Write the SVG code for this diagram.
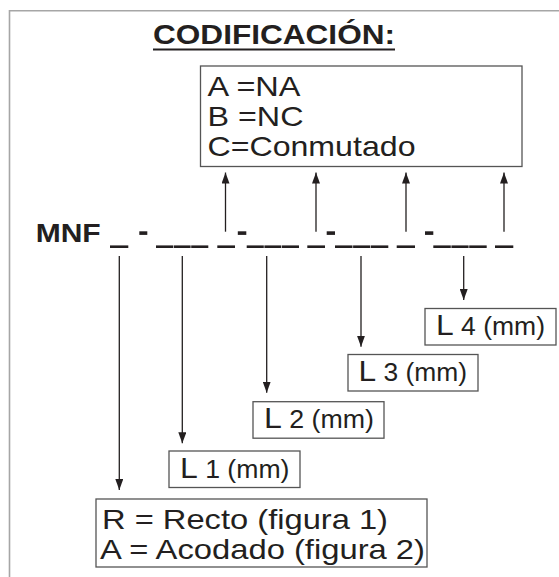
<svg xmlns="http://www.w3.org/2000/svg" width="559" height="577" viewBox="0 0 559 577">
<defs>
<style>
.t{font-family:"Liberation Sans",Arial,sans-serif;fill:#231f20}
.b{font-weight:bold}
.box{fill:#fff;stroke:#555;stroke-width:1.3}
.ln{stroke:#231f20;stroke-width:1.3;fill:none}
.us{stroke:#231f20;stroke-width:2.6}
.frame{stroke:#a6a6a6;stroke-width:1.6;fill:none}
</style>
<marker id="ah" markerWidth="11" markerHeight="8" refX="11" refY="4" orient="auto" markerUnits="userSpaceOnUse" viewBox="0 0 11 8">
<path d="M0,0 L11,4 L0,8 Z" fill="#231f20"/>
</marker>
</defs>
<rect width="559" height="577" fill="#fff"/>
<path class="frame" d="M9.5,577 V10.8 H559"/>

<g id="title">
<text class="t b" x="153" y="44" font-size="27" textLength="242" lengthAdjust="spacingAndGlyphs">CODIFICACIÓN:</text>
<line x1="153" y1="49.5" x2="395" y2="49.5" stroke="#231f20" stroke-width="2"/>
</g>

<g id="contacto">
<rect class="box" x="200.5" y="66" width="321.5" height="100.5"/>
<text class="t" font-size="28.5" x="207.5" y="95.7" textLength="93" lengthAdjust="spacingAndGlyphs">A =NA</text>
<text class="t" font-size="28.5" x="207.5" y="125.8" textLength="96" lengthAdjust="spacingAndGlyphs">B =NC</text>
<text class="t" font-size="28.5" x="207.5" y="156" textLength="208" lengthAdjust="spacingAndGlyphs">C=Conmutado</text>
</g>

<g id="codigo">
<text class="t b" x="35.7" y="241.7" font-size="26" textLength="65" lengthAdjust="spacingAndGlyphs">MNF</text>
<g class="us">
<line x1="110" y1="246.7" x2="128.3" y2="246.7"/>
<line x1="156" y1="246.7" x2="173.2" y2="246.7"/>
<line x1="173.8" y1="246.7" x2="190.6" y2="246.7"/>
<line x1="191.2" y1="246.7" x2="208.3" y2="246.7"/>
<line x1="217.3" y1="246.7" x2="235" y2="246.7"/>
<line x1="246.7" y1="246.7" x2="263.8" y2="246.7"/>
<line x1="264.4" y1="246.7" x2="281.2" y2="246.7"/>
<line x1="281.8" y1="246.7" x2="299" y2="246.7"/>
<line x1="307.3" y1="246.7" x2="325" y2="246.7"/>
<line x1="335" y1="246.7" x2="352.5" y2="246.7"/>
<line x1="353.1" y1="246.7" x2="370.2" y2="246.7"/>
<line x1="370.8" y1="246.7" x2="388.3" y2="246.7"/>
<line x1="396.7" y1="246.7" x2="415" y2="246.7"/>
<line x1="433.3" y1="246.7" x2="450.8" y2="246.7"/>
<line x1="451.4" y1="246.7" x2="468.6" y2="246.7"/>
<line x1="469.2" y1="246.7" x2="486.7" y2="246.7"/>
<line x1="495" y1="246.7" x2="513.3" y2="246.7"/>
</g>
<g fill="#231f20">
<rect x="139.3" y="231.3" width="8" height="3.6"/>
<rect x="237.8" y="231.3" width="8.5" height="3.6"/>
<rect x="326.7" y="231.3" width="8.3" height="3.6"/>
<rect x="425" y="231.3" width="8.3" height="3.6"/>
</g>
</g>

<g id="L4">
<rect class="box" x="425" y="308.5" width="131" height="36.5"/>
<text class="t" x="436" y="335" textLength="109" lengthAdjust="spacingAndGlyphs"><tspan font-size="30">L</tspan><tspan font-size="25"> 4 (mm)</tspan></text>
</g>
<g id="L3">
<rect class="box" x="348" y="354.5" width="130" height="36.5"/>
<text class="t" x="358.5" y="381.3" textLength="108.5" lengthAdjust="spacingAndGlyphs"><tspan font-size="30">L</tspan><tspan font-size="25"> 3 (mm)</tspan></text>
</g>
<g id="L2">
<rect class="box" x="253" y="401.7" width="131" height="36.5"/>
<text class="t" x="264" y="428.3" textLength="110" lengthAdjust="spacingAndGlyphs"><tspan font-size="30">L</tspan><tspan font-size="25"> 2 (mm)</tspan></text>
</g>
<g id="L1">
<rect class="box" x="169" y="451" width="131" height="36.5"/>
<text class="t" x="180" y="478" textLength="109.5" lengthAdjust="spacingAndGlyphs"><tspan font-size="30">L</tspan><tspan font-size="25"> 1 (mm)</tspan></text>
</g>

<g id="forma">
<rect class="box" x="96" y="499" width="331" height="68"/>
<text class="t" font-size="28.5" x="102" y="528.5" textLength="286" lengthAdjust="spacingAndGlyphs">R = Recto (figura 1)</text>
<text class="t" font-size="28.5" x="100" y="558.5" textLength="325" lengthAdjust="spacingAndGlyphs">A = Acodado (figura 2)</text>
</g>

<g id="connectors" class="ln">
<line x1="225.5" y1="231.7" x2="225.5" y2="172.5" marker-end="url(#ah)"/>
<line x1="316" y1="231.7" x2="316" y2="172.5" marker-end="url(#ah)"/>
<line x1="406" y1="231.7" x2="406" y2="172.5" marker-end="url(#ah)"/>
<line x1="504" y1="231.7" x2="504" y2="172.5" marker-end="url(#ah)"/>
<line x1="119.3" y1="256" x2="119.3" y2="490" marker-end="url(#ah)"/>
<line x1="182.3" y1="256" x2="182.3" y2="443.3" marker-end="url(#ah)"/>
<line x1="266.7" y1="256" x2="266.7" y2="392.7" marker-end="url(#ah)"/>
<line x1="361" y1="256" x2="361" y2="346.7" marker-end="url(#ah)"/>
<line x1="463.7" y1="256" x2="463.7" y2="300" marker-end="url(#ah)"/>
</g>
</svg>
